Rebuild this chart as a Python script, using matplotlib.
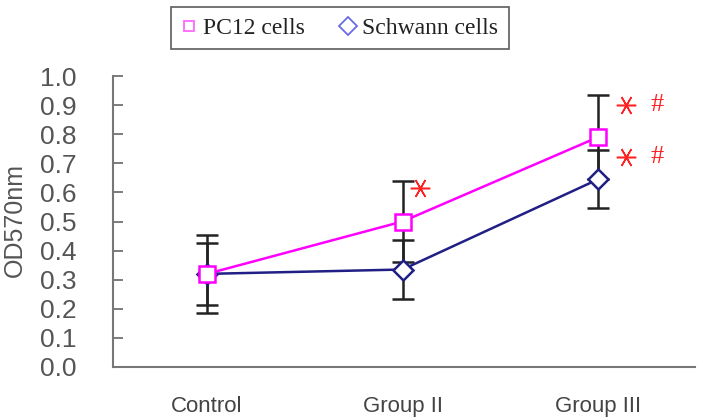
import matplotlib
matplotlib.use("Agg")
import matplotlib.pyplot as plt
from matplotlib.lines import Line2D

groups = ["Control", "Group II", "Group III"]
pc12 = [0.32, 0.50, 0.79]
pc12_err = [0.135, 0.14, 0.145]
schwann = [0.32, 0.335, 0.645]
schwann_err = [0.107, 0.10, 0.10]
yticks = [0.0, 0.1, 0.2, 0.3, 0.4, 0.5, 0.6, 0.7, 0.8, 0.9, 1.0]

# significance marks
stars = [(1.09, 0.615), (2.14, 0.90), (2.14, 0.72)]
hashes = [(2.30, 0.90), (2.30, 0.72)]

fig = plt.figure(figsize=(7.03, 4.20), dpi=100)
ax = fig.add_axes([113/703, 53/420, 582/703, 291/420])
x = list(range(len(groups)))

ax.errorbar(x, schwann, yerr=schwann_err, fmt="none", ecolor="#222222",
            elinewidth=1.8, capsize=8, capthick=1.8, zorder=2)
ax.errorbar(x, pc12, yerr=pc12_err, fmt="none", ecolor="#222222",
            elinewidth=1.8, capsize=8, capthick=1.8, zorder=2)
ax.plot(x, schwann, color="#1f1f85", lw=1.8, marker="D", ms=10,
        mfc="white", mec="#1f1f85", mew=1.8, zorder=3)
ax.plot(x, pc12, color="#ff00ff", lw=1.8, marker="s", ms=12,
        mfc="white", mec="#ff00ff", mew=1.8, zorder=4)

for sx, sy in stars:
    ax.plot(sx, sy, marker=(6, 2, 90), color="#ff2020", ms=14, mew=1.1,
            linestyle="none", zorder=5)
for hx, hy in hashes:
    ax.text(hx, hy, "#", color="#ff2020", fontsize=19, ha="center",
            va="center", family="Liberation Serif")

ax.set_xlim(-0.48, 2.495)
ax.set_ylim(0, 1.0)
ax.set_yticks(yticks)
ax.set_yticklabels(["%.1f" % v for v in yticks], fontsize=19,
                   color="#555555", family="Liberation Sans")
ax.set_xticks(x)
ax.set_xticklabels(groups, fontsize=16, color="#444444",
                   family="Liberation Sans")
ax.tick_params(axis="x", length=0, pad=21)
ax.tick_params(axis="y", direction="in", length=7, width=1.2,
               color="#666666", pad=26)
for s in ["top", "right"]:
    ax.spines[s].set_visible(False)
for s in ["left", "bottom"]:
    ax.spines[s].set_color("#777777")
    ax.spines[s].set_linewidth(1.5)

fig.text(15/703, 1 - 220/420, "OD570nm", rotation=90, fontsize=18,
         color="#555555", family="Liberation Sans", ha="center", va="center")

handles = [
    Line2D([], [], linestyle="none", marker="s", ms=7, mfc="white",
           mec="#ff66ff", mew=1.3, label="PC12 cells"),
    Line2D([], [], linestyle="none", marker="D", ms=9, mfc="white",
           mec="#6a6ae8", mew=1.3, label="Schwann cells"),
]
leg = fig.legend(handles=handles, loc="center", ncol=2,
                 bbox_to_anchor=(340/703, 1 - 28/420), frameon=True,
                 fancybox=False, edgecolor="#333333", handlelength=0.6,
                 handletextpad=0.3, columnspacing=1.5, borderpad=0.45,
                 prop={"family": "Liberation Serif", "size": 17})
leg.get_frame().set_linewidth(1.2)
for t in leg.get_texts():
    t.set_color("#222222")

fig.savefig("out.png", dpi=100)
